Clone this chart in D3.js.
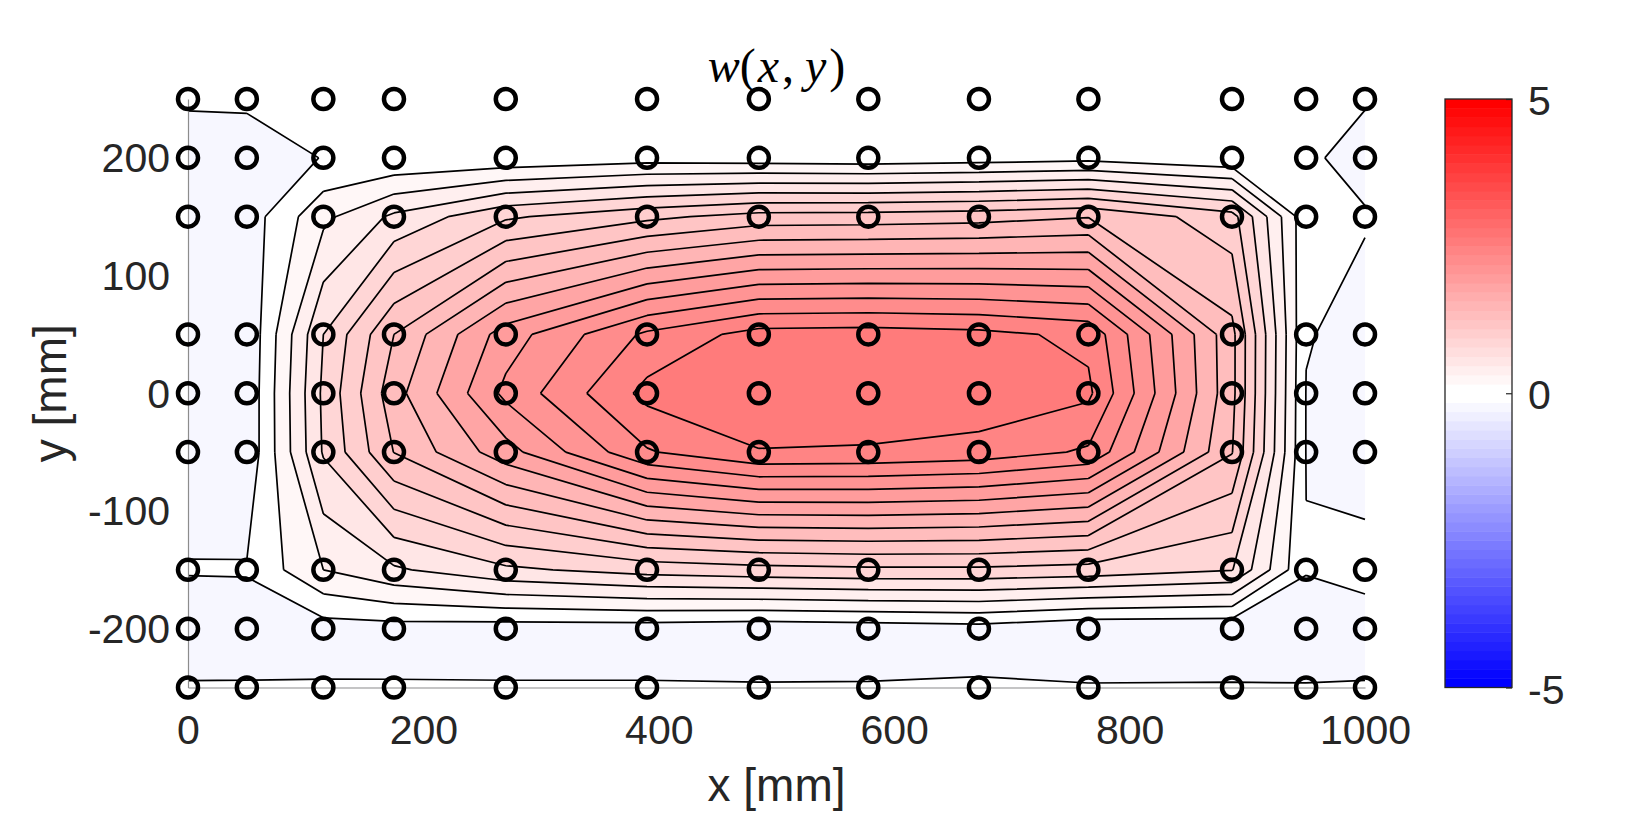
<!DOCTYPE html>
<html>
<meta charset="utf-8">
<style>
    body {
        margin: 0;
        background: white;
    }

    text {
        font-family: 'Liberation Sans', sans-serif;
        fill: #262626;
    }
</style>

<body>
    <svg id="chart" width="1650" height="830"></svg>
    <script src="https://d3js.org/d3.v7.min.js"></script>
    <script>

        // measurement grid [mm]
        const xs = [0, 50, 115, 175, 270, 390, 485, 578, 672, 765, 887, 950, 1000];
        const ys = [250, 200, 150, 50, 0, -50, -150, -200, -250];

        // w at the grid points, one row per y
        const row250 = [0.012, 0.01, 0.03, 0.03, 0.03, 0.03, 0.03, 0.03, 0.03, 0.03, 0.03, 0.02, 0.01];
        const row200 = [-0.047, -0.031, 0.002, 0.016, 0.045, 0.11, 0.09, 0.07, 0.10, 0.135, 0.03, 0.02, -0.043];
        const row150 = [-0.1, -0.11, 0.35, 0.64, 0.97, 1.15, 1.28, 1.29, 1.32, 1.39, 1.08, 0.06, 0.01];
        const row50 = [-0.1, -0.17, 0.8, 1.40, 2.1, 2.64, 2.88, 2.895, 2.86, 2.75, 1.46, 0.009, -0.046];
        const row0 = [-0.1, -0.16, 0.84, 1.52, 2.25, 2.86, 2.95, 2.97, 2.95, 2.84, 1.46, -0.006, -0.06];
        const rowM50 = [-0.1, -0.156, 0.82, 1.405, 1.92, 2.58, 2.79, 2.775, 2.72, 2.57, 1.41, -0.006, -0.04];
        const rowM150 = [0.01, 0.015, 0.4, 0.57, 0.76, 0.88, 0.93, 0.96, 0.96, 0.92, 0.81, 0.0086, 0.03];
        const rowM200 = [-0.09, -0.105, -0.09, -0.08, -0.1, -0.1, -0.13, -0.11, -0.08, -0.17, -0.17, -0.083, -0.043];
        const rowM250 = [0.012, 0.015, 0.015, 0.013, 0.014, 0.014, 0.013, 0.013, 0.018, 0.014, 0.017, 0.007, 0.006];

        const levels = [-0.2, 0, 0.2, 0.4, 0.6, 0.8, 1.0, 1.2, 1.4, 1.6, 1.8, 2.0, 2.2, 2.4, 2.6, 2.8];
        // which of the 64 colorbar colours each level is filled with, by eye
        const levelBands = [30, 32, 33, 34, 35, 37, 38, 39, 40, 41, 43, 44, 45, 46, 47, 48];
        const xTicks = [0, 200, 400, 600, 800, 1000];
        const yTicks = [-200, -100, 0, 100, 200];
        const barTicks = [-5, 0, 5];

        const chart = d3.select("#chart");

        const plotLeft = 188, plotRight = 1365, plotTop = 99, plotBottom = 687.5;
        const barLeft = 1445, barRight = 1512;
        const grey = "#8c8c8c";

        const xScale = d3.scaleLinear().domain([0, 1000]).range([plotLeft, plotRight]);
        const yScale = d3.scaleLinear().domain([-250, 250]).range([plotBottom, plotTop]);
        const barScale = d3.scaleLinear().domain([-5, 5]).range([plotBottom, plotTop]);

        // 64 colours, blue -> white -> red, with two white ones in the middle
        const nColors = 64;
        const bandColor = i => {
            const half = nColors / 2;
            const t = i < half ? i / (half - 1) : (nColors - 1 - i) / (half - 1);
            const v = Math.round(255 * t);
            return i < half ? d3.rgb(v, v, 255) : d3.rgb(255, v, v);
        };

        // d3.contours puts grid point i at i + 0.5 so map back onto the uneven grid
        const gridX = d3.scaleLinear().domain(xs.map((d, i) => i + 0.5)).range(xs.map(d => xScale(d))).clamp(true);
        const gridY = d3.scaleLinear().domain(ys.map((d, i) => i + 0.5)).range(ys.map(d => yScale(d))).clamp(true);

        const values = [].concat(row250, row200, row150, row50, row0, rowM50, rowM150, rowM200, rowM250);
        const bands = d3.contours().size([xs.length, ys.length]).thresholds(levels)(values);

        const ringPoints = ring => ring.map(p => [gridX(p[0]), gridY(p[1])]);

        const fillPath = band => band.coordinates
            .map(poly => poly.map(ring => "M" + ringPoints(ring).join("L") + "Z").join(""))
            .join("");

        // same rings, but leave out the parts that only run along the plot border
        const onBorder = (a, b) =>
            (a[0] === b[0] && (a[0] === plotLeft || a[0] === plotRight)) ||
            (a[1] === b[1] && (a[1] === plotTop || a[1] === plotBottom));

        const linePath = band => {
            let d = "";
            band.coordinates.forEach(poly => poly.forEach(ring => {
                const pts = ringPoints(ring);
                for (let i = 1; i < pts.length; i++) {
                    if (!onBorder(pts[i - 1], pts[i])) d += "M" + pts[i - 1] + "L" + pts[i];
                }
            }));
            return d;
        };

        chart.append("g")
            .selectAll("path")
            .data(bands)
            .enter()
            .append("path")
            .attr("d", fillPath)
            .attr("fill", (d, i) => bandColor(levelBands[i]))
            .attr("fill-rule", "evenodd");

        chart.append("g")
            .selectAll("path")
            .data(bands)
            .enter()
            .append("path")
            .attr("d", linePath)
            .attr("fill", "none")
            .attr("stroke", "black")
            .attr("stroke-width", 1.7);

        // axes
        const xAxis = chart.append("g")
            .attr("transform", "translate(0," + plotBottom + ")")
            .call(d3.axisBottom(xScale).tickValues(xTicks).tickSize(0).tickPadding(27).tickFormat(d => String(d)));
        const yAxis = chart.append("g")
            .attr("transform", "translate(" + plotLeft + ",0)")
            .call(d3.axisLeft(yScale).tickValues(yTicks).tickSize(0).tickPadding(18).tickFormat(d => String(d)));

        [xAxis, yAxis].forEach(a => {
            a.select(".domain").attr("stroke", grey).attr("stroke-width", 1.2);
            a.selectAll("text").style("font-size", "41px").style("font-family", "'Liberation Sans', sans-serif").attr("fill", "#262626");
        });
        yAxis.selectAll("text").attr("dy", "0.34em");

        chart.append("text")
            .attr("x", (plotLeft + plotRight) / 2)
            .attr("y", 801)
            .attr("text-anchor", "middle")
            .style("font-size", "46px")
            .text("x [mm]");

        chart.append("text")
            .attr("transform", "translate(66," + yScale(0) + ") rotate(-90)")
            .attr("text-anchor", "middle")
            .style("font-size", "46px")
            .text("y [mm]");

        // title, written like the LaTeX one
        const title = chart.append("text")
            .attr("x", (plotLeft + plotRight) / 2)
            .attr("y", 82)
            .attr("text-anchor", "middle")
            .style("font-size", "48px")
            .style("font-family", "'Liberation Serif', serif")
            .style("fill", "black");
        title.append("tspan").style("font-style", "italic").style("font-family", "'Liberation Serif', serif").text("w");
        title.append("tspan").text("(");
        title.append("tspan").style("font-style", "italic").attr("dx", 2).text("x");
        title.append("tspan").attr("dx", 3).text(",");
        title.append("tspan").style("font-style", "italic").attr("dx", 11).text("y");
        title.append("tspan").attr("dx", 3).text(")");

        // colorbar
        const bar = chart.append("g");
        bar.selectAll("rect")
            .data(d3.range(nColors))
            .enter()
            .append("rect")
            .attr("x", barLeft)
            .attr("width", barRight - barLeft)
            .attr("y", d => barScale(-5 + (d + 1) * 10 / nColors))
            .attr("height", d => barScale(-5 + d * 10 / nColors) - barScale(-5 + (d + 1) * 10 / nColors) + 0.5)
            .attr("fill", d => bandColor(d));

        bar.append("rect")
            .attr("x", barLeft)
            .attr("y", plotTop)
            .attr("width", barRight - barLeft)
            .attr("height", plotBottom - plotTop)
            .attr("fill", "none")
            .attr("stroke", "#262626")
            .attr("stroke-width", 1.3);

        const barAxis = chart.append("g")
            .attr("transform", "translate(" + barRight + ",0)")
            .call(d3.axisRight(barScale).tickValues(barTicks).tickSizeInner(-6).tickSizeOuter(0).tickPadding(15).tickFormat(d => String(d)));
        barAxis.select(".domain").remove();
        barAxis.selectAll("line").attr("stroke", "#262626").attr("stroke-width", 1.2);
        barAxis.selectAll("text").attr("x", 16).attr("dy", "0.38em").style("font-size", "41px").style("font-family", "'Liberation Sans', sans-serif").attr("fill", "#262626");

        // measurement points
        const points = d3.cross(xs, ys);
        chart.append("g")
            .selectAll("circle")
            .data(points)
            .enter()
            .append("circle")
            .attr("cx", d => xScale(d[0]))
            .attr("cy", d => yScale(d[1]))
            .attr("r", 10)
            .attr("fill", "none")
            .attr("stroke", "black")
            .attr("stroke-width", 4.5);

    </script>
</body>

</html>
